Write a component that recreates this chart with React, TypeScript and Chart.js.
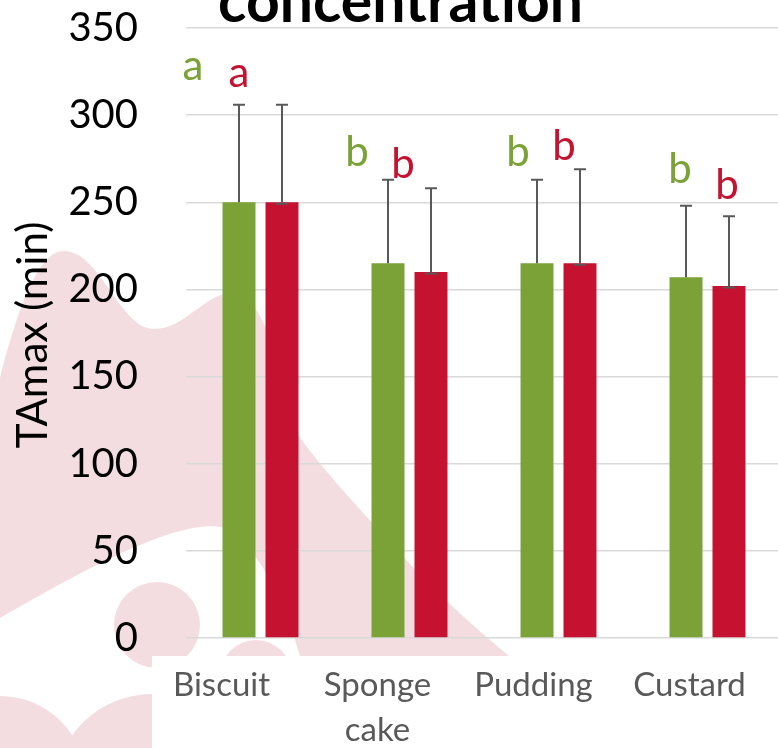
import React, { useEffect, useRef } from 'react';
import { Chart, registerables } from 'chart.js';

Chart.register(...registerables);

// ---------- data ----------
const CATEGORIES = ['Biscuit', 'Sponge cake', 'Pudding', 'Custard'];
const CATEGORY_LABEL_LINES = [['Biscuit'], ['Sponge', 'cake'], ['Pudding'], ['Custard']];
const GREEN_VALUES = [250, 215, 215, 207];
const RED_VALUES = [250, 210, 215, 202];
const GREEN_ERRORS = [56, 48, 48, 41];
const RED_ERRORS = [56, 48, 54, 40];
const GREEN_LETTERS = ['a', 'b', 'b', 'b'];
const RED_LETTERS = ['a', 'b', 'b', 'b'];
// letter baselines, in axis units
const GREEN_LETTER_LEVELS = [320, 271, 271, 261];
const RED_LETTER_LEVELS = [316, 264, 274, 252];
const Y_MIN = 0;
const Y_MAX = 350;
const Y_STEP = 50;
const TITLE = 'concentration';
const Y_TITLE = 'TAmax (min)';

// ---------- styles ----------
const GREEN = '#7AA236';
const RED = '#C41230';
const PINK = '#F3DDE1';
const GRID = '#D9D9D9';
const ERR = '#595959';
const FONT = 'Lato, "Open Sans", sans-serif';
const GREEN_LETTER_DX = [-46, -31, -19, -6];
const RED_LETTER_DX = [-43, -28, -16, -2];

const decorPlugin = {
  id: 'decor',
  beforeDraw(chart: any) {
    const ctx = chart.ctx as CanvasRenderingContext2D;
    ctx.save();
    ctx.fillStyle = '#ffffff';
    ctx.fillRect(0, 0, chart.width, chart.height);
    ctx.fillStyle = PINK;
    // large left blob + swoosh
    ctx.beginPath();
    ctx.moveTo(0, 378);
    ctx.bezierCurveTo(20, 300, 40, 251, 64, 251);
    ctx.bezierCurveTo(100, 251, 120, 329, 154, 329);
    ctx.bezierCurveTo(185, 329, 205, 293, 232, 293);
    ctx.bezierCurveTo(270, 293, 285, 400, 298, 435);
    ctx.bezierCurveTo(330, 480, 380, 530, 420, 575);
    ctx.bezierCurveTo(460, 615, 490, 640, 509, 656);
    ctx.lineTo(300, 656);
    ctx.bezierCurveTo(285, 600, 255, 540, 221, 527);
    ctx.bezierCurveTo(180, 520, 100, 560, 0, 618);
    ctx.closePath();
    ctx.fill();
    // circles near the axis origin
    ctx.beginPath();
    ctx.arc(157, 625, 43, 0, Math.PI * 2);
    ctx.fill();
    ctx.beginPath();
    ctx.arc(256, 676, 36, 0, Math.PI * 2);
    ctx.fill();
    // bottom-left blobs
    ctx.beginPath();
    ctx.arc(0, 782, 86, 0, Math.PI * 2);
    ctx.fill();
    ctx.beginPath();
    ctx.arc(152, 792, 98, 0, Math.PI * 2);
    ctx.fill();
    // white label box
    ctx.fillStyle = '#ffffff';
    ctx.fillRect(152, 656, chart.width - 152, chart.height - 656);
    ctx.restore();
  },
  afterDatasetsDraw(chart: any) {
    const ctx = chart.ctx as CanvasRenderingContext2D;
    const yScale = chart.scales.y;
    const sets = [
      { values: GREEN_VALUES, errors: GREEN_ERRORS, baseCap: false },
      { values: RED_VALUES, errors: RED_ERRORS, baseCap: true },
    ];
    ctx.save();
    ctx.strokeStyle = ERR;
    ctx.lineWidth = 2;
    sets.forEach((s, di) => {
      const meta = chart.getDatasetMeta(di);
      meta.data.forEach((bar: any, i: number) => {
        const x = Math.round(bar.x);
        const yBase = yScale.getPixelForValue(s.values[i]);
        const yTop = yScale.getPixelForValue(s.values[i] + s.errors[i]);
        ctx.beginPath();
        ctx.moveTo(x, yBase);
        ctx.lineTo(x, yTop);
        ctx.moveTo(x - 6, yTop);
        ctx.lineTo(x + 6, yTop);
        if (s.baseCap) {
          ctx.moveTo(x - 6, yBase + 1.5);
          ctx.lineTo(x + 6, yBase + 1.5);
        }
        ctx.stroke();
      });
    });
    ctx.restore();
  },
  afterDraw(chart: any) {
    const ctx = chart.ctx as CanvasRenderingContext2D;
    const yScale = chart.scales.y;
    ctx.save();
    // significance letters
    ctx.font = `42px ${FONT}`;
    ctx.textAlign = 'center';
    ctx.textBaseline = 'alphabetic';
    const groups = [
      { letters: GREEN_LETTERS, levels: GREEN_LETTER_LEVELS, dx: GREEN_LETTER_DX, color: GREEN },
      { letters: RED_LETTERS, levels: RED_LETTER_LEVELS, dx: RED_LETTER_DX, color: RED },
    ];
    groups.forEach((g, di) => {
      const meta = chart.getDatasetMeta(di);
      ctx.fillStyle = g.color;
      meta.data.forEach((bar: any, i: number) => {
        ctx.fillText(g.letters[i], bar.x + g.dx[i], yScale.getPixelForValue(g.levels[i]));
      });
    });
    // chart title (cut off at the top)
    ctx.fillStyle = '#000000';
    ctx.font = `bold 100px ${FONT}`;
    const w100 = ctx.measureText(TITLE).width;
    const size = (100 * 365) / w100;
    ctx.font = `bold ${size.toFixed(1)}px ${FONT}`;
    ctx.fillText(TITLE, 400.5, 21.5);
    // y axis title
    ctx.font = `42px ${FONT}`;
    ctx.translate(47, 335);
    ctx.rotate(-Math.PI / 2);
    ctx.fillText(Y_TITLE, 0, 0);
    ctx.restore();
  },
};

export default function App() {
  const ref = useRef<HTMLCanvasElement | null>(null);

  useEffect(() => {
    if (!ref.current) return;
    const chart = new Chart(ref.current, {
      type: 'bar',
      data: {
        labels: CATEGORIES,
        datasets: [
          {
            label: 'Green',
            data: GREEN_VALUES,
            backgroundColor: GREEN,
            categoryPercentage: 0.577,
            barPercentage: 0.767,
          },
          {
            label: 'Red',
            data: RED_VALUES,
            backgroundColor: RED,
            categoryPercentage: 0.577,
            barPercentage: 0.767,
          },
        ],
      },
      options: {
        animation: false,
        responsive: false,
        devicePixelRatio: 1,
        layout: { padding: { top: 28, left: 0, right: 0, bottom: 0 } },
        plugins: {
          legend: { display: false },
          tooltip: { enabled: false },
          title: { display: false },
        },
        scales: {
          x: {
            type: 'category',
            display: false,
            grid: { display: false },
          },
          xl: {
            type: 'linear',
            position: 'bottom',
            offset: false,
            bounds: 'data',
            min: -0.2276,
            max: 3.5929,
            grid: { display: false, drawTicks: false, offset: false },
            border: { display: false },
            afterBuildTicks: (axis: any) => {
              axis.ticks = CATEGORY_LABEL_LINES.map((_, i) => ({ value: i }));
            },
            afterFit: (axis: any) => {
              axis.height = 110;
              axis.paddingLeft = 0;
              axis.paddingRight = 0;
            },
            ticks: {
              autoSkip: false,
              maxRotation: 0,
              minRotation: 0,
              padding: 25,
              color: '#595959',
              font: { family: FONT, size: 33, lineHeight: 1.36 },
              callback: (v: any) => CATEGORY_LABEL_LINES[Math.round(Number(v))] ?? '',
            },
          },
          y: {
            min: Y_MIN,
            max: Y_MAX,
            grid: { color: GRID, lineWidth: 1.5, drawTicks: false },
            border: { display: false },
            afterFit: (axis: any) => {
              axis.width = 186;
              axis.paddingTop = 0;
              axis.paddingBottom = 0;
            },
            ticks: {
              stepSize: Y_STEP,
              padding: 48,
              color: '#000000',
              font: { family: FONT, size: 40 },
            },
          },
        },
      },
      plugins: [decorPlugin],
    } as any);
    return () => chart.destroy();
  }, []);

  return (
    <div
      style={{
        position: 'absolute',
        left: 0,
        top: 0,
        width: 778,
        height: 748,
        overflow: 'hidden',
        background: '#fff',
      }}
    >
      <canvas ref={ref} width={782} height={748} style={{ display: 'block', width: 782, height: 748 }} />
    </div>
  );
}
